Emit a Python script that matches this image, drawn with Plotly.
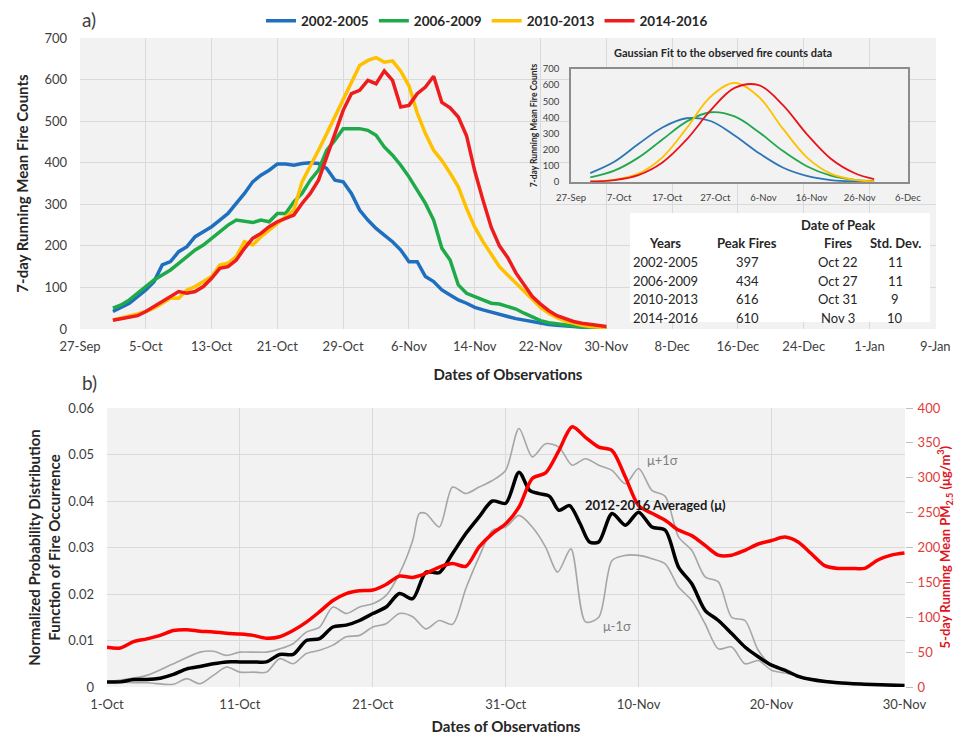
import pandas as pd
import plotly.graph_objects as go

# ---------------- DATA ----------------
series_names = ["2002-2005", "2006-2009", "2010-2013", "2014-2016"]
series_colors = ["#1f6fbf", "#1faa4a", "#ffc000", "#ee1c1c"]
inset_colors = ["#2e75b6", "#21a84f", "#ffc000", "#e8141c"]

top_start = "2000-10-01"   # daily values, 1-Oct .. 30-Nov
fires_2002_2005 = [42, 52, 62, 78, 94, 114, 154, 162, 186, 198, 222, 234, 246, 262, 278, 302, 326, 354, 370, 382,
                   397, 397, 394, 398, 400, 398, 386, 358, 354, 326, 286,
                   262, 242, 226, 210, 190, 162, 162, 126, 114, 94, 82, 70, 62, 52, 46, 40, 35, 30, 25,
                   21, 17, 14, 11, 9, 7, 5, 4, 3, 2, 2]
fires_2006_2009 = [50, 58, 70, 86, 102, 118, 130, 142, 158, 174, 190, 202, 218, 234, 250, 262, 258, 256, 262, 258,
                   278, 278, 306, 326, 358, 382, 430, 454, 482, 482, 482,
                   478, 466, 438, 418, 394, 366, 334, 302, 262, 194, 166, 106, 86, 78, 68, 62, 60, 55, 48,
                   38, 28, 20, 15, 12, 9, 7, 5, 4, 3, 2]
fires_2010_2013 = [22, 26, 30, 36, 42, 50, 62, 74, 74, 94, 102, 114, 126, 154, 158, 174, 210, 202, 222, 238,
                   254, 270, 286, 354, 390, 430, 470, 510, 550, 590, 634,
                   646, 653, 642, 645, 620, 585, 520, 470, 430, 405, 375, 342, 290, 245, 210, 180, 150, 130, 110,
                   90, 70, 52, 38, 27, 19, 13, 9, 6, 4, 3]
fires_2014_2016 = [21, 24, 29, 32, 42, 54, 66, 78, 90, 86, 90, 102, 122, 146, 150, 166, 194, 218, 230, 246,
                   258, 266, 274, 302, 326, 358, 414, 470, 526, 566, 574,
                   598, 590, 621, 598, 534, 538, 566, 582, 608, 545, 532, 510, 465, 380, 310, 245, 200, 172, 135,
                   105, 78, 60, 44, 32, 24, 18, 14, 11, 8, 6]
top_series = [fires_2002_2005, fires_2006_2009, fires_2010_2013, fires_2014_2016]

# Inset: Gaussian fit curves (days after 1-Oct)
fit_days = [0, 5, 10, 15, 20, 25, 30, 35, 40, 45, 50, 55, 59]
fit_2002_2005 = [55, 125, 235, 338, 395, 378, 288, 180, 90, 38, 12, 3, 1]
fit_2006_2009 = [28, 70, 151, 263, 374, 432, 406, 310, 193, 98, 40, 13, 5]
fit_2010_2013 = [2, 13, 52, 153, 332, 528, 614, 528, 332, 153, 52, 13, 3]
fit_2014_2016 = [3, 12, 43, 121, 262, 443, 583, 600, 478, 297, 144, 54, 18]
fit_series = [fit_2002_2005, fit_2006_2009, fit_2010_2013, fit_2014_2016]

# Table
tbl_years = ["2002-2005", "2006-2009", "2010-2013", "2014-2016"]
tbl_peak = ["397", "434", "616", "610"]
tbl_date = ["Oct 22", "Oct 27", "Oct 31", "Nov 3"]
tbl_sd = ["11", "11", "9", "10"]

# Panel b (days after 1-Oct)
mu_days = [0, 1, 2, 3, 4, 5, 6, 7, 8, 9, 10, 11, 12, 13, 14, 15, 16, 17, 18, 19, 20, 21, 22, 23, 24, 25, 26, 27, 28,
           29, 30, 31, 31.8, 32.5, 33.3, 34, 34.8, 35.6, 36.3, 37, 38, 39, 40, 41, 42, 43, 44, 45, 46, 47, 48, 49,
           50, 51, 52, 53, 55, 57, 60]
mu_vals = [.0011, .0011, .0016, .0016, .0019, .0027, .0039, .0044, .005, .0054,
           .0054, .0054, .0054, .007, .007, .010, .0104, .0129, .0133, .0143,
           .0158, .0172, .0201, .019, .0247, .0246, .0287, .033, .0366, .040,
           .0395, .0462, .0423, .0416, .041, .038, .039, .0351, .0312, .0312,
           .0373, .0348, .0376, .0344, .0337, .0258, .0222, .0165, .0143, .0115,
           .0086, .0065, .0047, .0036, .0023, .0016, .0009, .0006, .0003]
up_days = [0, 3, 5, 7, 8, 9, 10, 12, 13, 14, 15, 16, 17, 18, 19, 20, 21, 22, 23, 23.5, 24, 25, 26, 27, 28, 29, 30,
           31, 32, 33, 34, 35, 36, 37, 38, 39, 40, 41, 42, 43, 44, 45, 46, 47, 48, 49, 50, 51, 52, 53, 55, 57, 60]
up_vals = [.0011, .0025, .005, .0075, .0077, .0068, .0075, .0075, .0082, .0093,
           .0118, .0129, .0172, .0158, .0172, .0179, .0197, .0244, .0315, .0373,
           .0373, .0344, .043, .0416, .043, .0444, .0466, .0556, .0495, .0523,
           .0516, .0477, .0491, .0477, .0466, .0437, .047, .0423, .041, .0323,
           .0294, .0237, .0226, .015, .0143, .0079, .0047, .0039, .0025, .0018,
           .001, .0006, .0003]
lo_days = [0, 3, 5, 6, 7, 8, 9, 10, 11, 12, 13, 14, 15, 16, 17, 18, 19, 20, 21, 22, 23, 24, 25, 26, 27, 28, 29, 30,
           31, 32, 33, 33.9, 34.9, 36, 37, 38, 39, 40, 41, 42, 43, 44, 45, 46, 47, 48, 49, 50, 51, 53, 55, 57, 60]
lo_vals = [.0011, .0009, .0006, .0018, .0007, .0025, .0043, .0032, .0032, .0032,
           .0061, .005, .0072, .0079, .009, .0108, .0111, .0129, .0136, .0158,
           .0151, .0125, .0143, .0135, .0212, .028, .0337, .0344, .0369, .0344,
           .0301, .0247, .0297, .014, .015, .0272, .0283, .0283, .0276, .0265,
           .0215, .0186, .0136, .0082, .0086, .005, .0057, .0036, .003, .0017,
           .001, .0006, .0003]
pm_vals = [57, 56, 65, 69, 74, 81, 82, 80, 79, 77, 76, 74, 70, 72, 81, 93, 108, 124, 134, 138,
           139, 147, 159, 157, 163, 172, 177, 173, 201, 220, 234, 258, 299, 307, 339, 373, 358, 344, 339, 301,
           260, 249, 239, 225, 217, 203, 189, 189, 196, 205, 210, 215, 208, 191, 174, 170, 170, 170, 182, 189, 192]

# ---------------- HELPERS ----------------
FONT = "Lato, 'Open Sans', sans-serif"
W, H = 955, 737
base = pd.Timestamp("2000-10-01")


def to_dates(days):
    return [base + pd.Timedelta(days=float(d)) for d in days]


def px(x):
    return x / W


def py(y):
    return 1 - y / H


DAY = 86400000
top_dates = pd.date_range(top_start, periods=len(fires_2002_2005), freq="D")

fig = go.Figure()

# ---- Panel a main curves
for name, col, vals in zip(series_names, series_colors, top_series):
    fig.add_trace(go.Scatter(x=top_dates, y=vals, name=name, mode="lines",
                             line=dict(color=col, width=3.5), xaxis="x", yaxis="y"))

# ---- Inset gaussian curves
for name, col, vals in zip(series_names, inset_colors, fit_series):
    fig.add_trace(go.Scatter(x=to_dates(fit_days), y=vals, name=name, mode="lines", showlegend=False,
                             line=dict(color=col, width=1.8, shape="spline", smoothing=1.0),
                             xaxis="x3", yaxis="y3"))

# ---- Panel b
fig.add_trace(go.Scatter(x=to_dates(up_days), y=up_vals, name="μ+1σ", mode="lines", showlegend=False,
                         line=dict(color="#a6a6a6", width=1.6, shape="spline", smoothing=0.8),
                         xaxis="x2", yaxis="y2"))
fig.add_trace(go.Scatter(x=to_dates(lo_days), y=lo_vals, name="μ-1σ", mode="lines", showlegend=False,
                         line=dict(color="#a6a6a6", width=1.6, shape="spline", smoothing=0.8),
                         xaxis="x2", yaxis="y2"))
fig.add_trace(go.Scatter(x=to_dates(mu_days), y=mu_vals, name="2012-2016 Averaged (μ)", mode="lines",
                         showlegend=False,
                         line=dict(color="#000000", width=3.5, shape="spline", smoothing=0.8),
                         xaxis="x2", yaxis="y2"))
fig.add_trace(go.Scatter(x=to_dates(range(len(pm_vals))), y=pm_vals, name="PM2.5", mode="lines",
                         showlegend=False,
                         line=dict(color="#ff0000", width=3.5, shape="spline", smoothing=0.8),
                         xaxis="x2", yaxis="y4"))

tick_col = "#404040"
grid_col = "#d9d9d9"
title_font = dict(family=FONT, size=15, color="#262626", weight="bold")

fig.update_layout(
    width=W, height=H,
    margin=dict(l=0, r=0, t=0, b=0, autoexpand=False),
    paper_bgcolor="white",
    plot_bgcolor="#f2f2f2",
    font=dict(family=FONT, size=13, color=tick_col),
    showlegend=True,
    legend=dict(orientation="h", x=px(487), xanchor="center", y=py(21), yanchor="middle",
                font=dict(family=FONT, size=13.5, color="#262626", weight="bold"),
                itemwidth=30, bgcolor="rgba(0,0,0,0)", tracegroupgap=0),
    xaxis=dict(domain=[px(80), px(936)], anchor="y", type="date", automargin=False,
               range=["2000-09-27", "2001-01-09 02:00"], tick0="2000-09-27", dtick=8 * DAY,
               tickformat="%-d-%b", showgrid=True, gridcolor=grid_col, zeroline=False, showline=False,
               ticks="", ticklabelstandoff=8, tickfont=dict(size=13, color=tick_col),
               title=dict(text="Dates of Observations", font=title_font, standoff=16)),
    yaxis=dict(domain=[py(329), py(38)], anchor="x", range=[0, 700], dtick=100, automargin=False,
               showgrid=True, gridcolor=grid_col, zeroline=False, showline=False,
               ticklabelstandoff=12, tickfont=dict(size=13, color=tick_col),
               title=dict(text="7-day Running Mean Fire Counts", font=title_font, standoff=12)),
    xaxis3=dict(domain=[px(571), px(908)], anchor="y3", type="date", automargin=False,
                range=["2000-09-27", "2000-12-06 01:00"], tick0="2000-09-27", dtick=10 * DAY,
                tickformat="%-d-%b", showgrid=False, zeroline=False, showline=True, mirror=True,
                linecolor="#8c8c8c", linewidth=1.5, ticks="", ticklabelstandoff=6,
                tickfont=dict(size=9.5, color=tick_col)),
    yaxis3=dict(domain=[py(182), py(69)], anchor="x3", range=[0, 700], dtick=100, automargin=False,
                showgrid=False, zeroline=False, showline=True, mirror=True,
                linecolor="#8c8c8c", linewidth=1.5, ticks="", ticklabelstandoff=8,
                tickfont=dict(size=9.5, color=tick_col),
                title=dict(text="7-day Running Mean Fire Counts",
                           font=dict(family=FONT, size=8.5, color="#262626", weight="bold"), standoff=4)),
    xaxis2=dict(domain=[px(107), px(905)], anchor="y2", type="date", automargin=False,
                range=["2000-10-01", "2000-11-30 01:00"], tick0="2000-10-01", dtick=10 * DAY,
                tickformat="%-d-%b", showgrid=True, gridcolor=grid_col, zeroline=False, showline=False,
                ticks="", ticklabelstandoff=8, tickfont=dict(size=13, color=tick_col),
                title=dict(text="Dates of Observations", font=title_font, standoff=10)),
    yaxis2=dict(domain=[py(687), py(408)], anchor="x2", range=[0, 0.06], dtick=0.01, automargin=False,
                showgrid=True, gridcolor=grid_col, zeroline=False, showline=False,
                ticklabelstandoff=12, tickfont=dict(size=13, color=tick_col),
                title=dict(text="Normalized Probability Distribution<br>Function of Fire Occurrence",
                           font=title_font, standoff=4)),
    yaxis4=dict(overlaying="y2", anchor="x2", side="right", range=[0, 400], dtick=50, automargin=False,
                showgrid=False, zeroline=False, showline=False,
                ticks="outside", ticklen=7, tickcolor="#bfbfbf", ticklabelstandoff=2,
                tickfont=dict(size=13, color="#e03c3c")),
)

# cover main gridlines inside inset box
fig.add_shape(type="rect", xref="x3 domain", yref="y3 domain", x0=0, x1=1, y0=0, y1=1,
              fillcolor="#f2f2f2", line=dict(width=0), layer="below")

# table white background
fig.add_shape(type="rect", xref="paper", yref="paper", x0=px(630), x1=px(930), y0=py(322), y1=py(213),
              fillcolor="white", line=dict(width=0), layer="above")

ann = []


def add_text(x, y, text, size=13, bold=False, color="#262626", xanchor="center", **kw):
    ann.append(dict(x=px(x), y=py(y), xref="paper", yref="paper", text=text, showarrow=False,
                    xanchor=xanchor, yanchor="middle",
                    font=dict(family=FONT, size=size, color=color, weight="bold" if bold else "normal"), **kw))


add_text(80, 20, "a)", size=19, color="#404040", xanchor="left")
add_text(80, 382, "b)", size=19, color="#404040", xanchor="left")
add_text(723, 52, "Gaussian Fit to the observed fire counts data", size=11, bold=True)

# table
col_x = [665, 747, 838, 895]
add_text(col_x[2], 225, "Date of Peak", bold=True)
for cx, hdr in zip(col_x, ["Years", "Peak Fires", "Fires", "Std. Dev."]):
    add_text(cx, 243, hdr, bold=True)
row_y = [262, 281, 299, 318]
for ry, a, b, c, d in zip(row_y, tbl_years, tbl_peak, tbl_date, tbl_sd):
    for cx, t in zip(col_x, [a, b, c, d]):
        add_text(cx, ry, t)

# panel b labels
add_text(662, 460, "μ+1σ", size=13, color="#7f7f7f")
add_text(655, 505, "2012-2016 Averaged (μ)", size=13, bold=True, color="#1a1a1a")
add_text(617, 626, "μ-1σ", size=13, color="#7f7f7f")

# right axis title, kept fully inside the figure at its right edge
ann.append(dict(x=1.0, y=py(547), xref="paper", yref="paper",
                text="5-day Running Mean PM<sub>2.5</sub> (μg/m<sup>3</sup>)", showarrow=False,
                textangle=-90, xanchor="right", yanchor="middle", borderpad=0,
                font=dict(family=FONT, size=13, color="#e0141c", weight="bold")))

fig.update_layout(annotations=ann)

fig.write_html("out.html")
